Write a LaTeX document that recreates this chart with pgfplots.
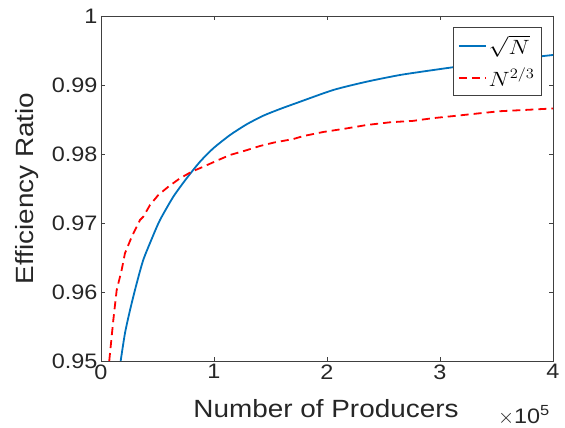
\documentclass[border=0pt]{standalone}
\usepackage{fontspec}
\setmainfont{Liberation Sans}[FakeStretch=1.12]
\usepackage{pgfplots}
\pgfplotsset{compat=1.18}
\definecolor{mblue}{rgb}{0,0.447,0.741}
\definecolor{axgray}{rgb}{0.25,0.25,0.25}
\newcommand{\legtext}[1]{\scalebox{1.15}[1]{\fontsize{20}{24}\selectfont$#1$}}
\begin{document}
\begin{tikzpicture}
\begin{axis}[
name=ax,
scale only axis,
width=452bp, height=345bp,
xmin=0, xmax=400000,
ymin=0.95, ymax=1,
xtick={0,100000,200000,300000,400000},
xticklabels={0,1,2,3,4},
scaled x ticks=false,
ytick={0.95,0.96,0.97,0.98,0.99,1},
yticklabels={0.95,0.96,0.97,0.98,0.99,1},
tick label style={font=\fontsize{21}{24}\selectfont, text=black!85},
axis line style={axgray, line width=0.9bp},
every tick/.style={axgray, line width=0.9bp},
major tick length=4.5bp,
tick align=inside,
xlabel={Number of Producers},
ylabel={Efficiency Ratio},
label style={font=\fontsize{25}{28}\selectfont, text=black!85},
xlabel style={at={(axis description cs:0.4978,-0.1652)},anchor=base,inner sep=0pt},
ylabel style={at={(axis description cs:-0.1504,0.5)},anchor=base,inner sep=0pt},
legend style={at={(0.9757,0.968)},anchor=north east,
  draw=axgray, line width=0.8bp,
  inner xsep=5bp, inner ysep=6bp, row sep=8bp},
legend cell align=left,
legend image code/.code={\draw[#1] plot coordinates {(0bp,0bp) (27bp,0bp)};},
]
\addplot[mblue, line width=1.8bp, smooth, tension=0.4] coordinates {
(17400,0.95) (21200,0.95401) (25700,0.95739) (31600,0.96126) (37400,0.96464)
(44900,0.96770) (52200,0.97043) (64000,0.97381) (75800,0.97648) (87600,0.97888)
(99400,0.98083) (114200,0.98275) (128900,0.98430) (143600,0.98555) (158400,0.98652)
(173200,0.98740) (205600,0.98928) (235100,0.99048) (264600,0.99145) (294100,0.99217)
(308800,0.99251) (340000,0.99320) (370000,0.99380) (400000,0.99435)
};
\addlegendentry{\legtext{\sqrt{N}}}
\addplot[red, line width=1.8bp, dash pattern=on 8bp off 5bp] coordinates {
(7300,0.95) (10900,0.95594) (13900,0.96029) (18300,0.96319) (21200,0.96561)
(27200,0.96801) (34500,0.97043) (37400,0.97091) (43400,0.97261) (50700,0.97406)
(59600,0.97526) (69900,0.97648) (80300,0.97744) (92000,0.97826) (103800,0.97913)
(114200,0.97986) (127400,0.98048) (140700,0.98116) (152500,0.98164) (170200,0.98217)
(179000,0.9826) (197000,0.9832) (217000,0.9837) (235000,0.9842) (256000,0.9846)
(276000,0.9848) (294000,0.9852) (312000,0.9855) (335000,0.9859) (353000,0.9862)
(377000,0.9864) (400000,0.9866)
};
\addlegendentry{\legtext{N^{2/3}}}
\end{axis}
\node[anchor=base east, inner sep=0pt, font=\fontsize{21}{24}\selectfont, text=black!85]
  at ([shift={(-3bp,-62bp)}]ax.south east) {$\times$10\textsuperscript{5}};
\pgfresetboundingbox
\path ([shift={(-101bp,-67bp)}]ax.south west) rectangle ([shift={(12bp,16bp)}]ax.north east);
\end{tikzpicture}
\end{document}
